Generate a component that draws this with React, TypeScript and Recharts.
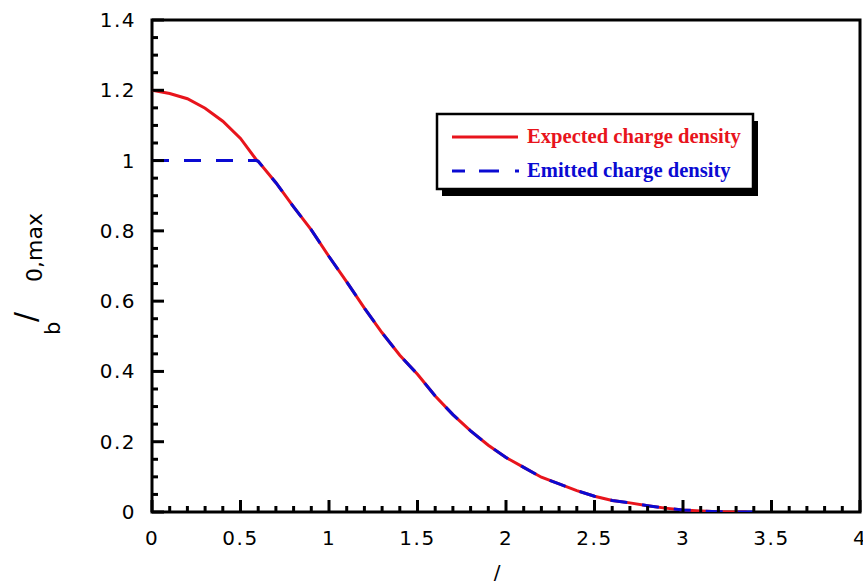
import { LineChart, Line, XAxis, YAxis, ReferenceArea } from 'recharts'

// radius values (r / r_b)
const xValues = [
  0, 0.1, 0.2, 0.3, 0.4, 0.5, 0.59, 0.6, 0.7, 0.8, 0.9, 1.0, 1.1, 1.2, 1.3, 1.4, 1.5, 1.6, 1.7, 1.8, 1.9,
  2.0, 2.1, 2.2, 2.3, 2.4, 2.5, 2.6, 2.7, 2.8, 2.9, 3.0, 3.1, 3.2, 3.3, 3.36, 3.44,
]
// expected charge density (red, solid)
const expectedValues = [
  1.2, 1.191, 1.176, 1.149, 1.112, 1.063, 1.002, 0.998, 0.937, 0.868, 0.803, 0.727, 0.655, 0.58, 0.51,
  0.446, 0.392, 0.33, 0.277, 0.231, 0.19, 0.155, 0.127, 0.099, 0.08, 0.061, 0.045, 0.033, 0.026, 0.018,
  0.011, 0.006, 0.003, 0.001, 0.0, 0.0, null,
]
// emitted charge density (blue, dashed)
const emittedValues = [
  1.0, 1.0, 1.0, 1.0, 1.0, 1.0, 1.0, 0.998, 0.937, 0.868, 0.803, 0.727, 0.655, 0.58, 0.51,
  0.446, 0.392, 0.33, 0.277, 0.231, 0.19, 0.155, 0.127, 0.099, 0.08, 0.061, 0.045, 0.033, 0.026, 0.018,
  0.011, 0.006, 0.003, 0.001, 0.0, 0.0, 0.0,
]

const xTicks = [
  0, 0.1, 0.2, 0.3, 0.4, 0.5, 0.6, 0.7, 0.8, 0.9, 1, 1.1, 1.2, 1.3, 1.4, 1.5, 1.6, 1.7, 1.8, 1.9, 2,
  2.1, 2.2, 2.3, 2.4, 2.5, 2.6, 2.7, 2.8, 2.9, 3, 3.1, 3.2, 3.3, 3.4, 3.5, 3.6, 3.7, 3.8, 3.9, 4,
]
const xLabels = ['0', '0.5', '1', '1.5', '2', '2.5', '3', '3.5', '4']
const yTicks = [
  0, 0.05, 0.1, 0.15, 0.2, 0.25, 0.3, 0.35, 0.4, 0.45, 0.5, 0.55, 0.6, 0.65, 0.7, 0.75, 0.8, 0.85,
  0.9, 0.95, 1, 1.05, 1.1, 1.15, 1.2, 1.25, 1.3, 1.35, 1.4,
]
const yLabels = ['0', '0.2', '0.4', '0.6', '0.8', '1', '1.2', '1.4']

const data = xValues.map((x, i) => ({ x, expected: expectedValues[i], emitted: emittedValues[i] }))

const RED = '#e8141c'
const BLUE = '#0a0ad2'
const MAJOR = 12
const MINOR = 6
const TW = 3
const tickFont = { fontFamily: 'DejaVu Sans', fontSize: 20, letterSpacing: 1.5 }

const labelFor = (v: number, labels: string[]) => labels.find((l) => Math.abs(parseFloat(l) - v) < 1e-6)

function BottomTick({ x, y, payload }: any) {
  const label = labelFor(payload.value, xLabels)
  return (
    <g>
      <line x1={x} x2={x} y1={y} y2={y - (label ? MAJOR : MINOR)} stroke="#000" strokeWidth={TW} />
      {label && (
        <text x={x} y={y + 33} textAnchor="middle" fill="#000" style={tickFont}>
          {label}
        </text>
      )}
    </g>
  )
}

function TopTick({ x, y, payload }: any) {
  const major = labelFor(payload.value, xLabels)
  return <line x1={x} x2={x} y1={y} y2={y + (major ? MAJOR : MINOR)} stroke="#000" strokeWidth={TW} />
}

function LeftTick({ x, y, payload }: any) {
  const label = labelFor(payload.value, yLabels)
  return (
    <g>
      <line x1={x} x2={x + (label ? MAJOR : MINOR)} y1={y} y2={y} stroke="#000" strokeWidth={TW} />
      {label && (
        <text x={x - 16} y={y + 7} textAnchor="end" fill="#000" style={tickFont}>
          {label}
        </text>
      )}
    </g>
  )
}

function RightTick({ x, y, payload }: any) {
  const major = labelFor(payload.value, yLabels)
  return <line x1={x} x2={x - (major ? MAJOR : MINOR)} y1={y} y2={y} stroke="#000" strokeWidth={TW} />
}

export default function App() {
  return (
    <div style={{ position: 'absolute', left: 0, top: 0, width: 863, height: 585, background: '#fff' }}>
      <LineChart width={863} height={585} data={data} margin={{ top: 20, right: 3, bottom: 0, left: 0 }}>
        <XAxis
          xAxisId="b"
          dataKey="x"
          type="number"
          domain={[0, 4]}
          allowDataOverflow
          ticks={xTicks}
          interval={0}
          height={73}
          tickSize={0}
          tickMargin={0}
          tickLine={false}
          axisLine={false}
          tick={<BottomTick />}
        />
        <XAxis
          xAxisId="t"
          orientation="top"
          type="number"
          domain={[0, 4]}
          allowDataOverflow
          ticks={xTicks}
          interval={0}
          height={0}
          tickSize={0}
          tickMargin={0}
          tickLine={false}
          axisLine={false}
          tick={<TopTick />}
        />
        <YAxis
          yAxisId="l"
          type="number"
          domain={[0, 1.4]}
          allowDataOverflow
          ticks={yTicks}
          interval={0}
          width={152}
          tickSize={0}
          tickMargin={0}
          tickLine={false}
          axisLine={false}
          tick={<LeftTick />}
        />
        <YAxis
          yAxisId="r"
          orientation="right"
          type="number"
          domain={[0, 1.4]}
          allowDataOverflow
          ticks={yTicks}
          interval={0}
          width={0}
          tickSize={0}
          tickMargin={0}
          tickLine={false}
          axisLine={false}
          tick={<RightTick />}
        />
        <Line
          xAxisId="b"
          yAxisId="l"
          dataKey="expected"
          type="linear"
          stroke={RED}
          strokeWidth={3}
          dot={false}
          connectNulls={false}
          isAnimationActive={false}
        />
        <Line
          xAxisId="b"
          yAxisId="l"
          dataKey="emitted"
          type="linear"
          stroke={BLUE}
          strokeWidth={3}
          strokeDasharray="17 15"
          dot={false}
          isAnimationActive={false}
        />
        {/* plot frame */}
        <ReferenceArea
          xAxisId="b"
          yAxisId="l"
          x1={0}
          x2={4}
          y1={0}
          y2={1.4}
          fill="none"
          fillOpacity={0}
          stroke="#000"
          strokeWidth={3}
          strokeOpacity={1}
          ifOverflow="visible"
        />
      </LineChart>

      {/* titles + legend */}
      <svg width={863} height={585} style={{ position: 'absolute', left: 0, top: 0, pointerEvents: 'none' }}>
        <text transform="translate(60,335) rotate(-90)" fontFamily="DejaVu Sans" fontSize={21} fill="#000">
          b
        </text>
        <text transform="translate(36,322) rotate(-90)" fontFamily="DejaVu Sans" fontSize={30} fill="#000">
          /
        </text>
        <text transform="translate(42,282) rotate(-90)" fontFamily="DejaVu Sans" fontSize={22} fill="#000">
          0,max
        </text>
        <text x={497} y={579} textAnchor="middle" fontFamily="DejaVu Sans" fontSize={20} fill="#000">
          /
        </text>

        <rect x={442} y={121} width={316} height={75} fill="#000" />
        <rect x={437} y={114} width={316} height={75} fill="#fff" stroke="#000" strokeWidth={2.5} />
        <line x1={452} x2={518} y1={137} y2={137} stroke={RED} strokeWidth={3} />
        <text x={527} y={143} fontFamily="Liberation Serif" fontWeight="bold" fontSize={20.6} fill={RED}>
          Expected charge density
        </text>
        <line x1={452} x2={465} y1={171} y2={171} stroke={BLUE} strokeWidth={3} />
        <line x1={479} x2={499} y1={171} y2={171} stroke={BLUE} strokeWidth={3} />
        <line x1={515} x2={519} y1={171} y2={171} stroke={BLUE} strokeWidth={3} />
        <text x={527} y={177} fontFamily="Liberation Serif" fontWeight="bold" fontSize={20.6} fill={BLUE}>
          Emitted charge density
        </text>
      </svg>
    </div>
  )
}
